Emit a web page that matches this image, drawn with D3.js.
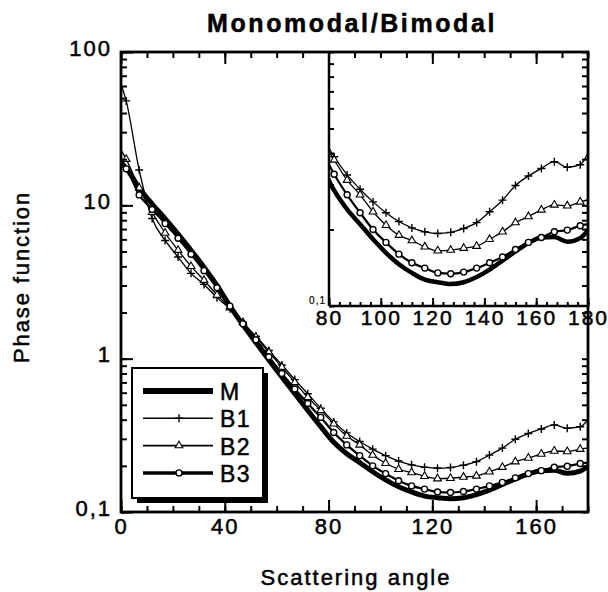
<!DOCTYPE html>
<html>
<head>
<meta charset="utf-8">
<script src="https://cdn.jsdelivr.net/npm/d3@7"></script>
<style>
body { margin: 0; background: #fff; }
text { font-family: "Liberation Sans", Arial, Helvetica, sans-serif; fill: #000; stroke: #000; stroke-width: 0.5px; }
</style>
</head>
<body>
<div class="chart"></div>
<script>
// scattering angles (deg) and phase function values
const angles = [0, 2, 7, 12, 17, 22, 27, 32, 37, 42, 47, 52, 57, 62, 67, 72, 77, 82, 87, 92,
    97, 102, 107, 112, 117, 122, 127, 132, 137, 142, 147, 152, 157, 162, 167, 172, 177, 180];

const valuesM = [19, 17.5, 13, 10.2, 8.2, 6.5, 5.1, 3.95, 3.0, 2.2, 1.66, 1.27, 0.98, 0.76, 0.59, 0.46,
    0.36, 0.285, 0.24, 0.21, 0.183, 0.162, 0.146, 0.135, 0.127, 0.124, 0.122, 0.124, 0.130, 0.139,
    0.151, 0.164, 0.177, 0.186, 0.187, 0.179, 0.185, 0.199];
const valuesB1 = [62, 48, 17, 8.2, 5.9, 4.6, 3.6, 3.05, 2.5, 2.12, 1.72, 1.4, 1.13, 0.91, 0.73, 0.59,
    0.475, 0.387, 0.328, 0.288, 0.257, 0.233, 0.215, 0.203, 0.196, 0.193, 0.195, 0.202, 0.213, 0.235,
    0.261, 0.298, 0.325, 0.348, 0.370, 0.352, 0.36, 0.40];
const valuesB2 = [23, 20, 13, 9.0, 6.6, 5.1, 4.0, 3.25, 2.6, 2.15, 1.72, 1.38, 1.1, 0.88, 0.70, 0.56,
    0.46, 0.376, 0.313, 0.274, 0.235, 0.208, 0.190, 0.181, 0.171, 0.165, 0.166, 0.169, 0.172, 0.183,
    0.196, 0.213, 0.225, 0.239, 0.250, 0.248, 0.257, 0.262];
const valuesB3 = [18, 17.3, 11.7, 9.4, 7.6, 6.1, 4.8, 3.75, 2.9, 2.2, 1.69, 1.33, 1.03, 0.80, 0.634, 0.51,
    0.414, 0.33, 0.274, 0.233, 0.200, 0.178, 0.160, 0.148, 0.141, 0.135, 0.134, 0.136, 0.141, 0.148,
    0.156, 0.167, 0.178, 0.186, 0.196, 0.199, 0.207, 0.21];

const seriesNames = ["M", "B1", "B2", "B3"];
const seriesValues = [valuesM, valuesB1, valuesB2, valuesB3];

const xMajor = [0, 40, 80, 120, 160];
const yMajor = [0.1, 1, 10, 100];
const yLabels = ["0,1", "1", "10", "100"];
const xInsetMajor = [80, 100, 120, 140, 160, 180];

const series = seriesNames.map((name, i) => ({
    name: name,
    points: angles.map((a, j) => ({a: a, v: seriesValues[i][j]}))
}));

const look = {
    M:  {width: 5,   inset: 4.5, marker: null},
    B1: {width: 1.3, inset: 1.3, marker: "plus"},
    B2: {width: 1.3, inset: 1.3, marker: "tri"},
    B3: {width: 2.2, inset: 2.2, marker: "circle"}
};

const W = 608, H = 592;
const plot = {left: 121, right: 588, top: 52, bottom: 512};
const inset = {left: 329, right: 588, top: 52, bottom: 306};

const svg = d3.select(".chart").append("svg")
    .attr("width", W)
    .attr("height", H);

const x = d3.scaleLinear().domain([0, 180]).range([plot.left, plot.right]);
const y = d3.scaleLog().domain([0.1, 100]).range([plot.bottom, plot.top]);
const xi = d3.scaleLinear().domain([80, 180]).range([inset.left, inset.right]);
const yi = d3.scaleLog().domain([0.1, 1]).range([inset.bottom, inset.top]);

const defs = svg.append("defs");
defs.append("clipPath").attr("id", "clipMain")
    .append("rect")
    .attr("x", plot.left).attr("y", plot.top)
    .attr("width", plot.right - plot.left).attr("height", plot.bottom - plot.top);
defs.append("clipPath").attr("id", "clipInset")
    .append("rect")
    .attr("x", inset.left).attr("y", inset.top)
    .attr("width", inset.right - inset.left).attr("height", inset.bottom - inset.top);

function drawMarker(g, kind, size) {
    if (kind === "plus") {
        g.append("path")
            .attr("d", `M${-size},0H${size}M0,${-size}V${size}`)
            .attr("stroke", "#000").attr("stroke-width", 1.4).attr("fill", "none");
    } else if (kind === "tri") {
        g.append("path")
            .attr("d", d3.symbol(d3.symbolTriangle, size * size * 1.6)())
            .attr("fill", "#fff").attr("stroke", "#000").attr("stroke-width", 1.1);
    } else if (kind === "circle") {
        g.append("circle")
            .attr("r", size * 0.75)
            .attr("fill", "#fff").attr("stroke", "#000").attr("stroke-width", 1.4);
    }
}

function drawSeries(layer, sx, sy, pts, widthKey, markerSize, keep) {
    series.forEach(s => {
        const st = look[s.name];
        const line = d3.line()
            .curve(d3.curveMonotoneX)
            .x(d => sx(d.a))
            .y(d => sy(d.v));
        const data = s.points.filter(pts);
        layer.append("path")
            .datum(data)
            .attr("fill", "none")
            .attr("stroke", "#000")
            .attr("stroke-width", st[widthKey])
            .attr("stroke-linejoin", "round")
            .attr("d", line);
        if (st.marker) {
            data.filter(keep).forEach(d => {
                const g = layer.append("g")
                    .attr("transform", `translate(${sx(d.a)},${sy(d.v)})`);
                drawMarker(g, st.marker, markerSize);
            });
        }
    });
}

// main curves
const main = svg.append("g").attr("clip-path", "url(#clipMain)");
drawSeries(main, x, y, d => true, "width", 4,
    d => d.a > 0 && d.a < 180);

// main axes: bottom and left with labels
const tickStyle = g => g.call(g => g.select(".domain").remove())
    .selectAll(".tick line").attr("stroke-width", 2);

svg.append("g")
    .attr("transform", `translate(0,${plot.bottom})`)
    .call(d3.axisBottom(x).tickValues(d3.range(0, 181, 10)).tickSize(-6).tickFormat(""))
    .call(tickStyle);
svg.append("g")
    .attr("class", "x-axis")
    .attr("transform", `translate(0,${plot.bottom})`)
    .call(d3.axisBottom(x).tickValues(xMajor).tickSize(-12).tickPadding(6))
    .call(tickStyle);
svg.select(".x-axis").selectAll("text")
    .attr("font-size", 22).attr("font-family", null).attr("letter-spacing", 2);

svg.append("g")
    .attr("transform", `translate(${plot.left},0)`)
    .call(d3.axisLeft(y).tickValues(y.ticks()).tickSize(-6).tickFormat(""))
    .call(tickStyle);
svg.append("g")
    .attr("class", "y-axis")
    .attr("transform", `translate(${plot.left},0)`)
    .call(d3.axisLeft(y).tickValues(yMajor).tickSize(-12).tickPadding(9)
        .tickFormat((d, i) => yLabels[i]))
    .call(tickStyle);
svg.select(".y-axis").selectAll("text")
    .attr("font-size", 22).attr("font-family", null).attr("letter-spacing", 2)
    .attr("dy", "0.15em");

// legend with drop shadow
const legend = svg.append("g").attr("transform", "translate(132,368)");
legend.append("rect")
    .attr("x", 5).attr("y", 5).attr("width", 131).attr("height", 130)
    .attr("fill", "#000");
legend.append("rect")
    .attr("x", 0).attr("y", 0).attr("width", 131).attr("height", 130)
    .attr("fill", "#fff").attr("stroke", "#000").attr("stroke-width", 2);
seriesNames.forEach((name, i) => {
    const st = look[name];
    const row = legend.append("g").attr("transform", `translate(0,${23 + i * 27.3})`);
    row.append("line")
        .attr("x1", 11).attr("x2", 81)
        .attr("stroke", "#000")
        .attr("stroke-width", name === "M" ? 6 : name === "B3" ? 3.5 : 1.6);
    if (st.marker) {
        const g = row.append("g").attr("transform", "translate(47,0)");
        drawMarker(g, st.marker, 4);
    }
    row.append("text")
        .attr("x", 88).attr("y", 9)
        .attr("font-size", 23)
        .attr("letter-spacing", 1.5)
        .text(name);
});

// inset
svg.append("rect")
    .attr("x", inset.left).attr("y", inset.top)
    .attr("width", inset.right - inset.left).attr("height", inset.bottom - inset.top)
    .attr("fill", "#fff");
const ins = svg.append("g").attr("clip-path", "url(#clipInset)");
drawSeries(ins, xi, yi, d => d.a >= 77, "inset", 4,
    d => d.a >= 80 && d.a < 180);

svg.append("g")
    .attr("transform", `translate(0,${inset.bottom})`)
    .call(d3.axisBottom(xi).tickValues(d3.range(80, 181, 4)).tickSize(-4).tickFormat(""))
    .call(tickStyle);
svg.append("g")
    .attr("class", "xi-axis")
    .attr("transform", `translate(0,${inset.bottom})`)
    .call(d3.axisBottom(xi).tickValues(xInsetMajor).tickSize(-8).tickPadding(4))
    .call(tickStyle);
svg.select(".xi-axis").selectAll("text")
    .attr("font-size", 21).attr("font-family", null).attr("letter-spacing", 2);

svg.append("g")
    .attr("transform", `translate(${inset.left},0)`)
    .call(d3.axisLeft(yi).tickValues(yi.ticks()).tickSize(-5).tickFormat(""))
    .call(tickStyle);

svg.append("text")
    .attr("x", inset.left - 3).attr("y", inset.bottom - 2)
    .attr("text-anchor", "end")
    .attr("font-size", 10)
    .attr("letter-spacing", 1)
    .style("stroke-width", "0.2px")
    .text("0,1");

svg.append("line")
    .attr("x1", inset.left).attr("x2", inset.left)
    .attr("y1", inset.top).attr("y2", inset.bottom)
    .attr("stroke", "#000").attr("stroke-width", 2.5);
svg.append("line")
    .attr("x1", inset.left).attr("x2", inset.right)
    .attr("y1", inset.bottom).attr("y2", inset.bottom)
    .attr("stroke", "#000").attr("stroke-width", 2.5);

// top and right ticks of the main frame, drawn over the inset
svg.append("g")
    .attr("transform", `translate(0,${plot.top})`)
    .call(d3.axisTop(x).tickValues(d3.range(0, 181, 10)).tickSize(-6).tickFormat(""))
    .call(tickStyle);
svg.append("g")
    .attr("transform", `translate(0,${plot.top})`)
    .call(d3.axisTop(x).tickValues(xMajor).tickSize(-12).tickFormat(""))
    .call(tickStyle);
svg.append("g")
    .attr("transform", `translate(${plot.right},0)`)
    .call(d3.axisRight(y).tickValues(y.ticks()).tickSize(-6).tickFormat(""))
    .call(tickStyle);

svg.append("rect")
    .attr("x", plot.left).attr("y", plot.top)
    .attr("width", plot.right - plot.left).attr("height", plot.bottom - plot.top)
    .attr("fill", "none").attr("stroke", "#000").attr("stroke-width", 2.8);

// titles
svg.append("text")
    .attr("x", 352).attr("y", 32)
    .attr("text-anchor", "middle")
    .attr("font-size", 25)
    .attr("font-weight", "bold")
    .attr("letter-spacing", 2.6)
    .text("Monomodal/Bimodal");

svg.append("text")
    .attr("x", 356).attr("y", 585)
    .attr("text-anchor", "middle")
    .attr("font-size", 22)
    .attr("letter-spacing", 2)
    .text("Scattering angle");

svg.append("text")
    .attr("transform", "translate(29,277) rotate(-90)")
    .attr("text-anchor", "middle")
    .attr("font-size", 22)
    .attr("letter-spacing", 1.9)
    .text("Phase function");
</script>
</body>
</html>
